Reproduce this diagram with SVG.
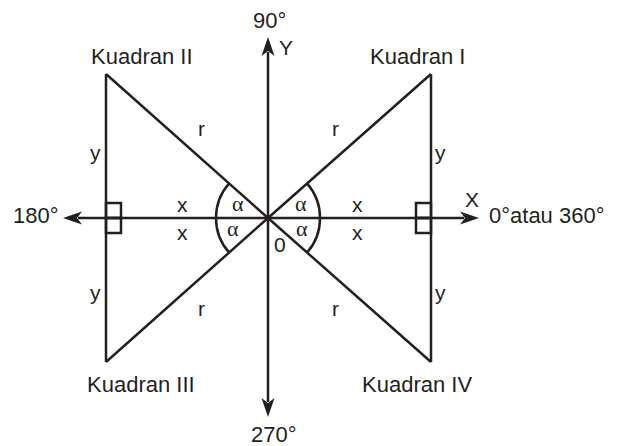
<svg xmlns="http://www.w3.org/2000/svg" width="625" height="446" viewBox="0 0 625 446">
<style>
.ln{stroke:#231f20;stroke-width:2.5;fill:none}
.ah{fill:#231f20;stroke:none}
text{font-family:"Liberation Sans",Arial,sans-serif;font-size:21px;fill:#231f20}
.k{font-size:22px}
.al{font-family:"Liberation Serif","DejaVu Serif",serif;font-size:22px}
</style>
<rect width="625" height="446" fill="#ffffff"/>
<g id="connectors">
<line class="ln" x1="78" y1="218" x2="464" y2="218"/>
<line class="ln" x1="268" y1="52" x2="268" y2="402"/>
<path class="ah" d="M63,218 L82,211.5 L77,218 L82,224.5 Z"/>
<path class="ah" d="M479,218 L460,211.5 L465,218 L460,224.5 Z"/>
<path class="ah" d="M268,37 L261.5,56 L268,51 L274.5,56 Z"/>
<path class="ah" d="M268,417 L261.5,398 L268,403 L274.5,398 Z"/>
</g>
<g id="quadrant-II">
<line class="ln" x1="106" y1="74" x2="106" y2="218"/>
<line class="ln" x1="106" y1="74" x2="268" y2="218"/>
<rect class="ln" x="106" y="203" width="15" height="15"/>
<path class="ln" d="M229.2,183.3 A52,52 0 0 0 216,218"/>
<text class="k" x="91" y="64">Kuadran II</text>
<text x="90" y="160">y</text>
<text x="198" y="136">r</text>
<text x="177" y="212">x</text>
<text class="al" x="232" y="211">α</text>
</g>
<g id="quadrant-I">
<line class="ln" x1="431" y1="74" x2="431" y2="218"/>
<line class="ln" x1="431" y1="74" x2="268" y2="218"/>
<rect class="ln" x="416" y="203" width="15" height="15"/>
<path class="ln" d="M307,183.3 A52,52 0 0 1 320,218"/>
<text class="k" x="370" y="64">Kuadran I</text>
<text x="435" y="160">y</text>
<text x="332" y="136">r</text>
<text x="352" y="212">x</text>
<text class="al" x="295" y="211">α</text>
</g>
<g id="quadrant-III">
<line class="ln" x1="106" y1="218" x2="106" y2="362"/>
<line class="ln" x1="106" y1="362" x2="268" y2="218"/>
<rect class="ln" x="106" y="218" width="15" height="15"/>
<path class="ln" d="M216,218 A52,52 0 0 0 229.2,252.7"/>
<text class="k" x="87" y="392">Kuadran III</text>
<text x="90" y="300">y</text>
<text x="198" y="316">r</text>
<text x="177" y="240">x</text>
<text class="al" x="227" y="236">α</text>
</g>
<g id="quadrant-IV">
<line class="ln" x1="431" y1="218" x2="431" y2="362"/>
<line class="ln" x1="431" y1="362" x2="268" y2="218"/>
<rect class="ln" x="416" y="218" width="15" height="15"/>
<path class="ln" d="M320,218 A52,52 0 0 1 307,252.7"/>
<text class="k" x="362" y="392">Kuadran IV</text>
<text x="435" y="300">y</text>
<text x="332" y="316">r</text>
<text x="352" y="240">x</text>
<text class="al" x="296" y="236">α</text>
</g>
<g id="axis-labels">
<text class="k" x="253" y="28">90°</text>
<text x="279" y="55">Y</text>
<text class="k" x="13" y="223">180°</text>
<text x="465" y="207">X</text>
<text class="k" x="489" y="223">0°atau 360°</text>
<text class="k" x="251" y="442">270°</text>
<text x="274" y="252">0</text>
</g>
</svg>
